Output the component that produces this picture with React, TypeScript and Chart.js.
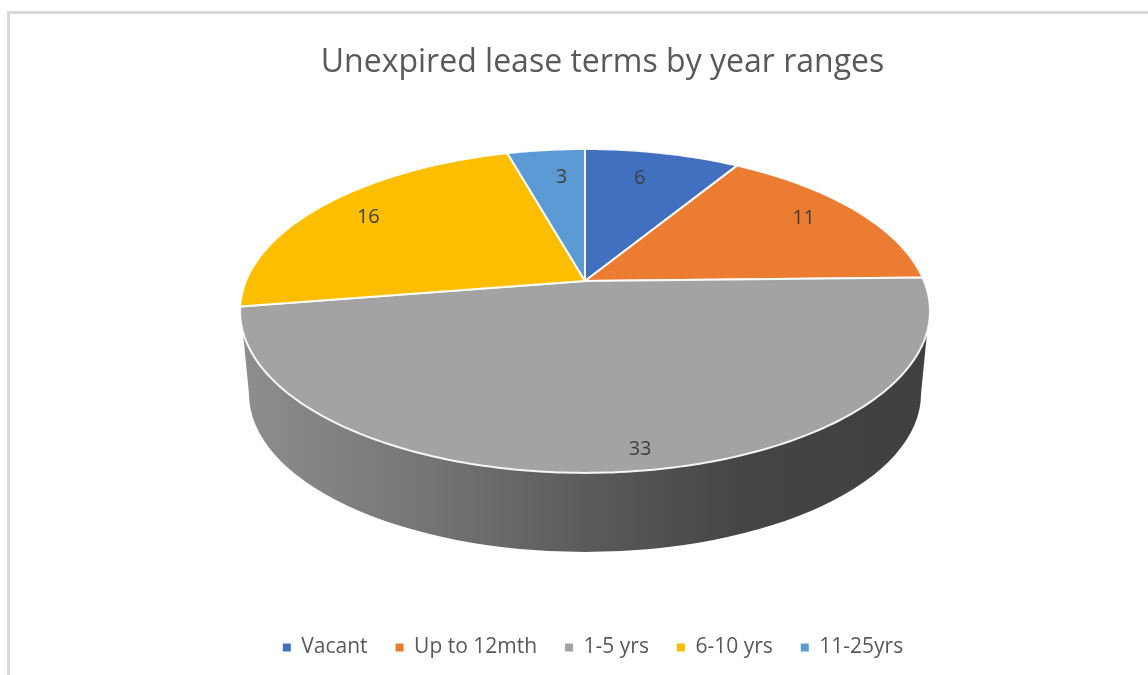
import React, { useEffect, useRef } from "react";
import { Chart, registerables } from "chart.js";

Chart.register(...registerables);

const TITLE = "Unexpired lease terms by year ranges";
const categories = ["Vacant", "Up to 12mth", "1-5 yrs", "6-10 yrs", "11-25yrs"];
const leaseCounts = [6, 11, 33, 16, 3];
const sliceColors = ["#4070BF", "#EB7C31", "#A3A3A3", "#FDBE00", "#5B9AD5"];

// Perspective of the tilted disc: unit-disc point -> screen point.
const PIE = { x: 585, y: 281, a: 339, b: 156.4, k: 0.185 };
const WALL = { x: 585, y: 394, rx: 336, ry: 158, topY: 333 };
const LABEL_RADIUS = 0.78;
const LABEL_NUDGE = [
  [-8, 0],
  [5, -6],
  [27, 26],
  [-10, -3],
  [8, 2],
];

function project(angle: number, r: number) {
  const u = Math.cos(angle) * r;
  const v = Math.sin(angle) * r;
  const w = 1 - PIE.k * v;
  return { x: PIE.x + (PIE.a * u) / w, y: PIE.y + (PIE.b * v) / w };
}

const tiltedPie = {
  id: "tiltedPie",
  afterLayout(chart: any) {
    chart.titleBlock.left += 28.5;
    chart.titleBlock.right += 28.5;
    chart.legend.left += 19;
    chart.legend.right += 19;
  },
  beforeDatasetDraw(chart: any) {
    const ctx = chart.ctx as CanvasRenderingContext2D;
    const arcs = chart.getDatasetMeta(0).data as any[];

    // side wall
    const grad = ctx.createLinearGradient(240, 0, 930, 0);
    grad.addColorStop(0, "#8E8E8E");
    grad.addColorStop(0.26, "#767676");
    grad.addColorStop(0.5, "#5B5B5B");
    grad.addColorStop(0.74, "#444444");
    grad.addColorStop(1, "#404040");
    ctx.save();
    ctx.beginPath();
    ctx.moveTo(PIE.x - 342, WALL.topY);
    ctx.lineTo(WALL.x - WALL.rx, WALL.y);
    ctx.ellipse(WALL.x, WALL.y, WALL.rx, WALL.ry, 0, Math.PI, 0, true);
    ctx.lineTo(PIE.x + 342, WALL.topY);
    ctx.lineTo(PIE.x, WALL.topY);
    ctx.closePath();
    ctx.fillStyle = grad;
    ctx.fill();

    // top face, one projected slice per arc element of the chart
    arcs.forEach((arc) => {
      const { startAngle, endAngle } = arc.getProps(["startAngle", "endAngle"]);
      const steps = Math.max(4, Math.ceil((endAngle - startAngle) * 60));
      ctx.beginPath();
      ctx.moveTo(PIE.x, PIE.y);
      for (let s = 0; s <= steps; s++) {
        const p = project(startAngle + ((endAngle - startAngle) * s) / steps, 1);
        ctx.lineTo(p.x, p.y);
      }
      ctx.closePath();
      ctx.fillStyle = arc.options.backgroundColor;
      ctx.fill();
      ctx.strokeStyle = "rgba(255,255,255,0.92)";
      ctx.lineWidth = 2;
      ctx.lineJoin = "round";
      ctx.stroke();
    });

    // value labels
    ctx.font = '20px "Open Sans"';
    ctx.fillStyle = "#404040";
    ctx.textAlign = "center";
    ctx.textBaseline = "middle";
    arcs.forEach((arc, i) => {
      const { startAngle, endAngle } = arc.getProps(["startAngle", "endAngle"]);
      const p = project((startAngle + endAngle) / 2, LABEL_RADIUS);
      ctx.fillText(String(leaseCounts[i]), p.x + LABEL_NUDGE[i][0], p.y + LABEL_NUDGE[i][1]);
    });
    ctx.restore();
    return false;
  },
};

export default function App() {
  const ref = useRef<HTMLCanvasElement>(null);
  useEffect(() => {
    const chart = new Chart(ref.current!, {
      type: "pie",
      data: {
        labels: categories,
        datasets: [{ data: leaseCounts, backgroundColor: sliceColors, borderWidth: 0 }],
      },
      options: {
        animation: false,
        responsive: false,
        layout: { padding: { top: 0, bottom: 7, left: 0, right: 0 } },
        plugins: {
          tooltip: { enabled: false },
          title: {
            display: true,
            text: TITLE,
            color: "#595959",
            font: { family: '"Open Sans"', size: 32, weight: "normal" },
            padding: { top: 44, bottom: 0 },
          },
          legend: {
            position: "bottom",
            labels: {
              boxWidth: 8,
              boxHeight: 8,
              padding: 28,
              color: "#595959",
              font: { family: '"Open Sans"', size: 21 },
            },
          },
        },
      },
      plugins: [tiltedPie],
    } as any);
    return () => chart.destroy();
  }, []);
  return (
    <div style={{ position: "fixed", inset: 0, overflow: "hidden", background: "#fff" }}>
      <div
        style={{
          position: "absolute",
          left: 7,
          top: 11,
          right: -10,
          bottom: -10,
          borderLeft: "3px solid #D9D9D9",
          borderTop: "3px solid #D9D9D9",
        }}
      />
      <canvas ref={ref} width={1148} height={675} style={{ position: "absolute", left: 0, top: 0, display: "block" }} />
    </div>
  );
}
